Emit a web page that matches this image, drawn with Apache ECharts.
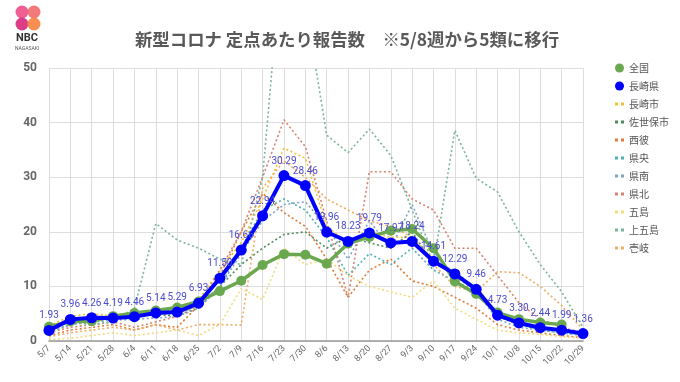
<!DOCTYPE html>
<html><head><meta charset="utf-8">
<script src="https://cdn.jsdelivr.net/npm/echarts@6/dist/echarts.min.js"></script>
<style>html,body{margin:0;padding:0;background:#fff}#c{width:680px;height:382px}</style>
</head><body><div id="c"></div>
<script>
const categories = ['5/7','5/14','5/21','5/28','6/4','6/11','6/18','6/25','7/2','7/9','7/16','7/23','7/30','8/6','8/13','8/20','8/27','9/3','9/10','9/17','9/24','10/1','10/8','10/15','10/22','10/29'];
const zenkoku   = [2.63,3.56,3.63,4.55,5.11,5.60,6.13,7.24,9.14,11.04,13.91,15.91,15.81,14.16,17.84,19.07,20.19,20.50,17.0,10.9,8.6,5.2,4.0,3.4,3.0,null];
const nagasakiKen = [1.93,3.96,4.26,4.19,4.46,5.14,5.29,6.93,11.50,16.66,22.94,30.29,28.46,19.96,18.23,19.79,17.97,18.24,14.61,12.29,9.46,4.73,3.30,2.44,1.99,1.36];
const nagasakiShi = [2.8,4.5,5.0,4.6,4.3,5.5,5.6,7.5,13,18,26,35.3,33.5,21,18,20,19,19,15,12,10,5,3.5,2.6,2.0,1.4];
const sasebo      = [2.0,3.8,4.0,4.5,4.8,4.8,4.6,6.0,10,14,17,19.5,20,17,19,18,17,20,14,13,9,4.5,3.0,2.5,2.0,1.0];
const seihi       = [1.0,2.0,2.5,3.0,2.0,3.0,2.5,6.5,12,20,27,23.5,21,15,8,13,15,11,10,8,6,3,2,1.5,1.0,0.6];
const kenou       = [1.5,3.0,3.5,4.0,4.5,5.0,5.0,6.5,10,17,24,26,24,19,12,16,14,17,13,11,9,5,3,2,1.5,1.2];
const kennan      = [1.8,3.0,3.5,3.8,4.0,4.2,4.5,6,10,16,22,25,25.5,21,15,22,17,25,16,12,9,4,2.5,2,1.5,1.0];
const kenpoku     = [1.5,2.5,3.0,3.5,2.5,3.5,4.5,6.5,13,20,30,40.5,35.6,22,8,31,31,26,24,17,17,12,7,4,2.5,1.5];
const goto        = [0.3,0.5,1.0,1.5,1.0,1.5,2.0,1.0,3,9.6,7.6,17,14,15,12,10,9,8,11,6,4,2,1.5,1.2,0.8,0.5];
const kamigoto    = [2.5,3.5,3.0,3.5,6.0,21.5,18.5,17,15,14,30,75,62,37.7,34.5,38.8,34,24,14,38.6,29.8,27.3,20,14,9,2.5];
const iki         = [0.8,1.5,2.0,2.5,2.0,3.0,2.0,3.0,3,2.9,28,33,30,26,24,22,21,19,14,10,9,12.7,12.5,10,6.5,2];
const yTicks = [0,10,20,30,40,50];

const dotted = [
  ['長崎市', nagasakiShi, '#f1c232'],
  ['佐世保市', sasebo, '#4f8a5b'],
  ['西彼', seihi, '#e07b39'],
  ['県央', kenou, '#4fb0b5'],
  ['県南', kennan, '#7fa3c8'],
  ['県北', kenpoku, '#d9826f'],
  ['五島', goto, '#f3dc7e'],
  ['上五島', kamigoto, '#7ab597'],
  ['壱岐', iki, '#f2ad63']
];
const dotIcon = 'path://M0,0h3v3h-3zM6,0h3v3h-3z';

const series = dotted.map(([n, d, c]) => ({
  name: n, type: 'line', data: d, symbol: 'none', color: c,
  lineStyle: {color: c, width: 1.6, type: [2, 2.5]}, z: 2
}));
series.push({
  name: '全国', type: 'line', data: zenkoku, color: '#6aa84f',
  symbol: 'circle', symbolSize: 10, showSymbol: true,
  lineStyle: {color: '#6aa84f', width: 3.5}, itemStyle: {color: '#6aa84f'}, z: 3
});
series.push({
  name: '長崎県', type: 'line', data: nagasakiKen, color: '#0000ff',
  symbol: 'circle', symbolSize: 11, showSymbol: true,
  lineStyle: {color: '#0000ff', width: 4}, itemStyle: {color: '#0000ff'}, z: 4,
  label: {show: true, position: 'top', distance: 4, color: '#4b4bd3', fontSize: 10,
          fontFamily: 'Roboto, sans-serif', formatter: p => p.value.toFixed(2)}
});

const legendData = [{name: '全国', icon: 'circle'}, {name: '長崎県', icon: 'circle'}]
  .concat(dotted.map(([n]) => ({name: n, icon: dotIcon})));

const chart = echarts.init(document.getElementById('c'), null, {renderer: 'canvas'});
chart.setOption({
  animation: false,
  backgroundColor: '#fff',
  title: {
    text: '新型コロナ 定点あたり報告数　※5/8週から5類に移行',
    left: 342, top: 26, textAlign: 'center',
    textStyle: {fontSize: 17.4, fontWeight: 'bold', color: '#595959', fontFamily: '"Noto Sans CJK JP", sans-serif'}
  },
  legend: {
    orient: 'vertical', left: 610, top: 58, itemWidth: 9, itemHeight: 9, itemGap: 8,
    data: legendData,
    textStyle: {fontSize: 10, color: '#555', lineHeight: 10, fontFamily: '"Noto Sans CJK JP", sans-serif'},
    itemStyle: {borderWidth: 0}
  },
  grid: {left: 49, right: 97, top: 68, bottom: 41, containLabel: false},
  xAxis: {
    type: 'category', data: categories, boundaryGap: false,
    axisLine: {lineStyle: {color: '#999', width: 1.5}},
    axisTick: {show: false},
    axisLabel: {rotate: 45, fontSize: 9, color: '#666', margin: 6, interval: 0, fontFamily: 'Roboto, sans-serif'},
    splitLine: {show: true, lineStyle: {color: '#dedede', width: 1}}
  },
  yAxis: {
    type: 'value', min: yTicks[0], max: yTicks[yTicks.length - 1], interval: 10,
    axisLine: {show: false}, axisTick: {show: false},
    axisLabel: {fontSize: 12, color: '#666', fontWeight: 'bold', margin: 12, fontFamily: 'Roboto, sans-serif'},
    splitLine: {lineStyle: {color: '#dedede', width: 1}}
  },
  graphic: [
    {type: 'circle', shape: {cx: 22, cy: 12, r: 6.5}, style: {fill: '#ec4f86', opacity: 0.9}},
    {type: 'circle', shape: {cx: 34, cy: 12, r: 6.5}, style: {fill: '#f26b6b', opacity: 0.9}},
    {type: 'circle', shape: {cx: 22, cy: 24, r: 6.5}, style: {fill: '#d8287a', opacity: 0.9}},
    {type: 'circle', shape: {cx: 34, cy: 24, r: 6.5}, style: {fill: '#f5833c', opacity: 0.9}},
    {type: 'text', left: 16, top: 33, style: {text: 'NBC', fontSize: 11, fontWeight: 'bold', fill: '#333', fontFamily: 'Roboto, sans-serif'}},
    {type: 'text', left: 15, top: 46, style: {text: 'NAGASAKI', fontSize: 5, fill: '#555', fontFamily: 'Roboto, sans-serif'}}
  ],
  series: series
});
</script>
</body></html>
